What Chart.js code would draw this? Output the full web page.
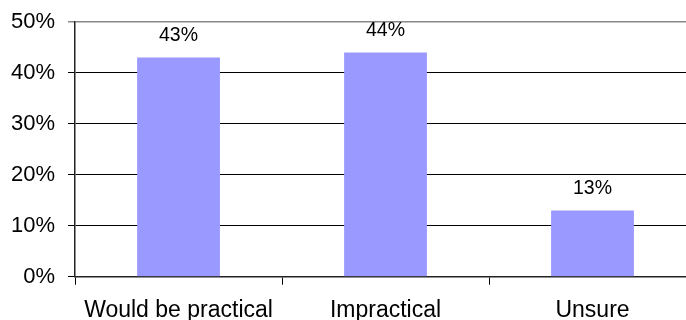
<!DOCTYPE html>
<html>
<head>
<meta charset="utf-8">
<script src="https://cdn.jsdelivr.net/npm/chart.js@4/dist/chart.umd.min.js"></script>
<style>
  html, body { margin: 0; padding: 0; background: #fff; overflow: hidden; }
  #wrap { width: 686px; height: 320px; overflow: hidden; }
  canvas { display: block; }
</style>
</head>
<body>
<div id="wrap"><canvas id="chart" width="696" height="320"></canvas></div>
<script>
// Survey answers and their share of respondents (percent)
const categories = ['Would be practical', 'Impractical', 'Unsure'];
const shares = [43, 44, 13];
const yTicks = [0, 10, 20, 30, 40, 50];

const FONT = "'Liberation Sans', Arial, sans-serif";

// Writes each bar's percentage above it
const valueLabels = {
  id: 'valueLabels',
  afterDatasetsDraw(chart) {
    const ctx = chart.ctx;
    const meta = chart.getDatasetMeta(0);
    ctx.save();
    ctx.font = '19.5px ' + FONT;
    ctx.fillStyle = '#000';
    ctx.textAlign = 'center';
    ctx.textBaseline = 'alphabetic';
    meta.data.forEach((bar, i) => {
      ctx.fillText(shares[i] + '%', bar.x, bar.y - 16);
    });
    ctx.restore();
  }
};

new Chart(document.getElementById('chart'), {
  type: 'bar',
  data: {
    labels: categories,
    datasets: [{
      data: shares,
      backgroundColor: '#9999FF',
      borderWidth: 0,
      barPercentage: 0.4,
      categoryPercentage: 1.0
    }]
  },
  options: {
    responsive: false,
    animation: false,
    layout: { padding: { left: -2, top: 15, right: 0, bottom: -16 } },
    plugins: { legend: { display: false }, tooltip: { enabled: false } },
    scales: {
      x: {
        offset: true,
        grid: {
          offset: true,
          drawOnChartArea: false,
          drawTicks: true,
          tickLength: 8,
          color: '#000',
          lineWidth: 1
        },
        border: { display: true, color: '#222', width: 1.5 },
        ticks: {
          color: '#000',
          padding: 13,
          font: { family: FONT, size: 23, lineHeight: 1.1 }
        }
      },
      y: {
        min: 0,
        max: 50,
        afterBuildTicks(axis) {
          axis.ticks = yTicks.map(v => ({ value: v }));
        },
        grid: {
          color: ctx => (ctx.tick && ctx.tick.value === 50 ? '#888' : '#000'),
          lineWidth: ctx => (ctx.tick && ctx.tick.value === 50 ? 1.5 : 1),
          tickLength: 7,
          drawTicks: true
        },
        border: { display: true, color: '#222', width: 1.5 },
        ticks: {
          color: '#000',
          padding: 13,
          font: { family: FONT, size: 22, lineHeight: 0.8 },
          callback: v => v + '%'
        }
      }
    }
  },
  plugins: [valueLabels]
});
</script>
</body>
</html>
